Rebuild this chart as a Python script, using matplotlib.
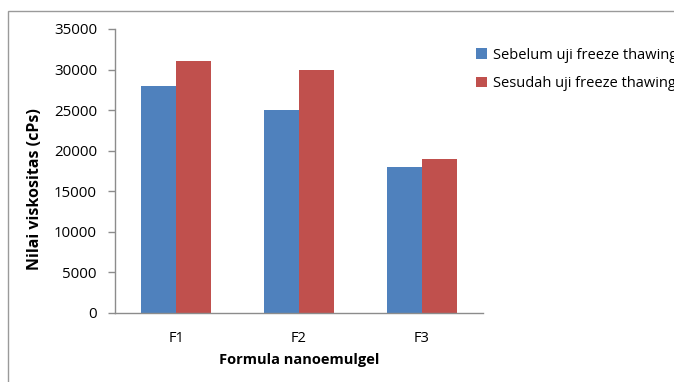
import numpy as np
import matplotlib
matplotlib.use('Agg')
from matplotlib import pyplot as plt
from matplotlib.patches import Rectangle

plt.rcParams['font.family'] = ['Open Sans', 'DejaVu Sans']

# data
categories = ['F1', 'F2', 'F3']
sebelum = [28000, 25000, 18000]
sesudah = [31000, 30000, 19000]
series_names = ['Sebelum uji freeze thawing', 'Sesudah uji freeze thawing']
yticks = [0, 5000, 10000, 15000, 20000, 25000, 30000, 35000]

blue = '#4f81bd'
red = '#c0504d'
grey = '#8c8c8c'

W, H = 674, 382
fig = plt.figure(figsize=(W / 100, H / 100), dpi=100)

# outer chart border (runs off the right and bottom of the picture)
fig.patches.append(Rectangle((8 / W, -0.2), 1.2, 1 - 11 / H + 0.2,
                             transform=fig.transFigure, fill=False,
                             edgecolor='#9a9a9a', linewidth=1.0))

ax = fig.add_axes([115 / W, 1 - 313 / H, 368 / W, 284 / H])

x = np.arange(len(categories))
bw = 0.285
b1 = ax.bar(x - bw / 2, sebelum, bw, color=blue, label=series_names[0])
b2 = ax.bar(x + bw / 2, sesudah, bw, color=red, label=series_names[1])

ax.set_xlim(-0.5, len(categories) - 0.5)
ax.set_ylim(0, 35000)
ax.set_yticks(yticks)
ax.set_yticklabels([str(v) for v in yticks])
ax.set_xticks(x)
ax.set_xticklabels(categories)

for s in ['top', 'right']:
    ax.spines[s].set_visible(False)
for s in ['left', 'bottom']:
    ax.spines[s].set_color(grey)
    ax.spines[s].set_linewidth(1.0)

ax.tick_params(axis='y', colors=grey, length=5, width=1.0, labelcolor='#000000',
               labelsize=10.8, pad=8)
ax.tick_params(axis='x', length=0, labelcolor='#000000', labelsize=10.5, pad=13)

ax.set_ylabel('Nilai viskositas (cPs)', fontsize=11.5, fontweight='bold')
ax.yaxis.set_label_coords(-0.196, 0.437)
ax.set_xlabel('Formula nanoemulgel', fontsize=10.5, fontweight='bold', labelpad=5)

fig.legend(handles=[b1, b2], loc='upper left', bbox_to_anchor=(470 / W, 1 - 42 / H),
           frameon=False, fontsize=10.5, handlelength=0.75, handleheight=0.75,
           handletextpad=0.4, labelspacing=0.9, borderaxespad=0)

fig.savefig('out.png', dpi=100)
